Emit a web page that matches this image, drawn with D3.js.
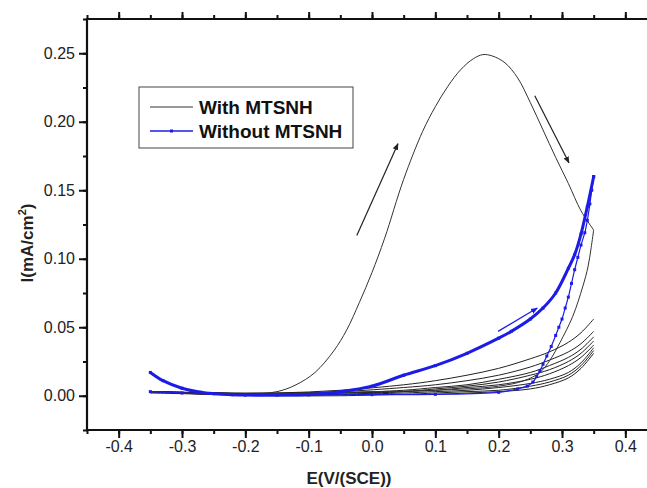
<!DOCTYPE html>
<html>
<head>
<meta charset="utf-8">
<script src="https://cdn.jsdelivr.net/npm/d3@7"></script>
<style>
  body { margin: 0; background: white; }
  text { font-family: "Liberation Sans", Arial, sans-serif; }
</style>
</head>
<body>
<div id="chart"></div>
<script>
var width = 647,
    height = 488

// tick labels
var xTicks = [-0.4, -0.3, -0.2, -0.1, 0.0, 0.1, 0.2, 0.3, 0.4]
var yTicks = [0.00, 0.05, 0.10, 0.15, 0.20, 0.25]

// With MTSNH - first cycle, forward scan
var withFwdE = [-0.35, -0.3, -0.25, -0.2, -0.15, -0.12, -0.09, -0.06, -0.04, -0.02, 0.0, 0.02, 0.05, 0.08, 0.1, 0.12, 0.14, 0.16, 0.175, 0.19, 0.21, 0.23, 0.25, 0.27, 0.29, 0.31, 0.33, 0.35]
var withFwdI = [0.003, 0.002, 0.001, 0.001, 0.003, 0.008, 0.017, 0.033, 0.048, 0.068, 0.090, 0.115, 0.158, 0.193, 0.211, 0.226, 0.238, 0.246, 0.249, 0.248, 0.243, 0.232, 0.214, 0.194, 0.174, 0.155, 0.135, 0.121]
// With MTSNH - first cycle, reverse scan
var withRevE = [0.35, 0.346, 0.341, 0.333, 0.317, 0.297, 0.281, 0.265, 0.24, 0.2, 0.1, 0.0, -0.1, -0.2, -0.3, -0.35]
var withRevI = [0.121, 0.108, 0.094, 0.080, 0.058, 0.039, 0.026, 0.017, 0.011, 0.007, 0.004, 0.003, 0.002, 0.001, 0.002, 0.003]

// With MTSNH - following cycles (bundle)
var bundleE = [-0.35, -0.25, -0.15, -0.05, 0.05, 0.1, 0.15, 0.2, 0.25, 0.28, 0.31, 0.33, 0.35]
var bundle1 = [0.003, 0.002, 0.002, 0.004, 0.008, 0.011, 0.015, 0.020, 0.027, 0.032, 0.039, 0.046, 0.056]
var bundle2 = [0.003, 0.002, 0.002, 0.003, 0.006, 0.008, 0.011, 0.015, 0.021, 0.026, 0.032, 0.038, 0.047]
var bundle3 = [0.003, 0.002, 0.001, 0.002, 0.004, 0.006, 0.008, 0.012, 0.017, 0.022, 0.028, 0.034, 0.043]
var bundle4 = [0.003, 0.002, 0.001, 0.002, 0.003, 0.005, 0.007, 0.010, 0.015, 0.019, 0.025, 0.031, 0.040]
var bundle5 = [0.003, 0.002, 0.001, 0.001, 0.003, 0.004, 0.006, 0.008, 0.012, 0.016, 0.022, 0.028, 0.037]
var bundle6 = [0.003, 0.001, 0.001, 0.001, 0.002, 0.003, 0.004, 0.006, 0.009, 0.012, 0.017, 0.024, 0.035]
var bundle7 = [0.003, 0.001, 0.000, 0.001, 0.001, 0.002, 0.003, 0.004, 0.007, 0.010, 0.015, 0.022, 0.033]
var bundle8 = [0.002, 0.001, 0.000, 0.000, 0.001, 0.001, 0.002, 0.003, 0.005, 0.008, 0.013, 0.020, 0.031]

// Without MTSNH - forward scan
var woFwdE = [-0.35, -0.33, -0.3, -0.27, -0.25, -0.22, -0.2, -0.15, -0.1, -0.05, 0.0, 0.05, 0.1, 0.15, 0.2, 0.22, 0.25, 0.27, 0.29, 0.31, 0.32, 0.33, 0.34, 0.35]
var woFwdI = [0.017, 0.011, 0.0055, 0.0025, 0.0015, 0.0007, 0.0005, 0.0005, 0.001, 0.003, 0.007, 0.015, 0.022, 0.031, 0.042, 0.047, 0.056, 0.064, 0.075, 0.093, 0.103, 0.118, 0.138, 0.160]
// Without MTSNH - reverse scan
var woRevE = [0.35, 0.347, 0.344, 0.34, 0.336, 0.33, 0.325, 0.32, 0.315, 0.31, 0.305, 0.3, 0.295, 0.29, 0.283, 0.276, 0.27, 0.265, 0.26, 0.254, 0.245, 0.23, 0.2, 0.1, 0.0, -0.1, -0.2, -0.3, -0.35]
var woRevI = [0.160, 0.150, 0.140, 0.128, 0.119, 0.110, 0.101, 0.092, 0.082, 0.072, 0.064, 0.056, 0.050, 0.044, 0.036, 0.029, 0.023, 0.018, 0.014, 0.010, 0.007, 0.005, 0.0025, 0.001, 0.0008, 0.0006, 0.0008, 0.002, 0.003]

// arrows [E0, I0, E1, I1]
var arrowUp = [-0.024, 0.117, 0.041, 0.184]
var arrowDown = [0.257, 0.219, 0.311, 0.170]
var arrowBlue = [0.199, 0.047, 0.261, 0.064]

var svg = d3.select("#chart")
    .append("svg")
        .attr("width", width)
        .attr("height", height)
        .style("background-color", "white")

var x = d3.scaleLinear().domain([-0.45, 0.45]).range([87, 657])
var y = d3.scaleLinear().domain([-0.025, 0.275]).range([430, 19])

var blue = "#1c1ce6"

// arrow heads
var defs = svg.append("defs")
function marker(id, col) {
    defs.append("marker")
        .attr("id", id)
        .attr("viewBox", "0 0 10 10")
        .attr("refX", 9).attr("refY", 5)
        .attr("markerWidth", 7).attr("markerHeight", 7)
        .attr("markerUnits", "userSpaceOnUse")
        .attr("orient", "auto")
      .append("path")
        .attr("d", "M0,1 L10,5 L0,9 Z")
        .attr("fill", col)
}
marker("headBlack", "#222")
marker("headBlue", blue)

function pts(es, is) {
    return es.map(function(e, i) { return [e, is[i]] })
}

var line = d3.line()
    .x(function(d) { return x(d[0]) })
    .y(function(d) { return y(d[1]) })
    .curve(d3.curveCatmullRom.alpha(0.5))

// with MTSNH bundle
var bundles = [bundle1, bundle2, bundle3, bundle4, bundle5, bundle6, bundle7, bundle8]
bundles.forEach(function(b) {
    svg.append("path")
        .attr("d", line(pts(bundleE, b)))
        .attr("fill", "none")
        .attr("stroke", "#222")
        .attr("stroke-width", 1)
})

svg.append("path")
    .attr("d", line(pts(withRevE, withRevI)))
    .attr("fill", "none")
    .attr("stroke", "#333")
    .attr("stroke-width", 1)

svg.append("path")
    .attr("d", line(pts(withFwdE, withFwdI)))
    .attr("fill", "none")
    .attr("stroke", "#333")
    .attr("stroke-width", 1)

// without MTSNH
var woSeries = [pts(woRevE, woRevI), pts(woFwdE, woFwdI)]
woSeries.forEach(function(s, k) {
    svg.append("path")
        .attr("d", line(s))
        .attr("fill", "none")
        .attr("stroke", blue)
        .attr("stroke-width", k == 1 ? 3 : 1.2)
    svg.append("g").selectAll("rect")
        .data(s)
        .enter()
        .append("rect")
            .attr("x", function(d) { return x(d[0]) - 1.5 })
            .attr("y", function(d) { return y(d[1]) - 1.5 })
            .attr("width", 3)
            .attr("height", 3)
            .attr("fill", blue)
})

// arrows
function arrow(a, col, head) {
    svg.append("line")
        .attr("x1", x(a[0])).attr("y1", y(a[1]))
        .attr("x2", x(a[2])).attr("y2", y(a[3]))
        .attr("stroke", col)
        .attr("stroke-width", 1.2)
        .attr("marker-end", "url(#" + head + ")")
}
arrow(arrowUp, "#222", "headBlack")
arrow(arrowDown, "#222", "headBlack")
arrow(arrowBlue, blue, "headBlue")

// axes
var xMinor = d3.range(-0.45, 0.46, 0.05)
var yMinor = d3.range(-0.025, 0.276, 0.025)
var fmtX = function(d) { return d3.format(".1f")(d).replace("\u2212", "-") }
var fmtY = function(d) { return d3.format(".2f")(d).replace("\u2212", "-") }

svg.append("g")
    .attr("transform", "translate(0,430)")
    .call(d3.axisBottom(x).tickValues(xMinor).tickSize(4).tickFormat(""))
svg.append("g")
    .attr("transform", "translate(0,430)")
    .call(d3.axisBottom(x).tickValues(xTicks).tickSize(8).tickPadding(3).tickFormat(fmtX))
svg.append("g")
    .attr("transform", "translate(0,19)")
    .call(d3.axisTop(x).tickValues(xMinor).tickSize(4).tickFormat(""))
svg.append("g")
    .attr("transform", "translate(0,19)")
    .call(d3.axisTop(x).tickValues(xTicks).tickSize(7).tickFormat(""))
svg.append("g")
    .attr("transform", "translate(87,0)")
    .call(d3.axisLeft(y).tickValues(yMinor).tickSize(4).tickFormat(""))
svg.append("g")
    .attr("transform", "translate(87,0)")
    .call(d3.axisLeft(y).tickValues(yTicks).tickSize(8).tickPadding(4).tickFormat(fmtY))

svg.selectAll(".domain").remove()
svg.selectAll(".tick line").attr("stroke", "#111").attr("stroke-width", 2)
svg.selectAll(".tick text")
    .attr("fill", "#222")
    .style("font-size", "16px")
    .style("font-family", "'Liberation Sans', Arial, sans-serif")

// frame
svg.append("line").attr("x1", 87).attr("x2", 87).attr("y1", 18).attr("y2", 431)
    .attr("stroke", "#111").attr("stroke-width", 2.2)
svg.append("line").attr("x1", 86).attr("x2", 647).attr("y1", 430).attr("y2", 430)
    .attr("stroke", "#111").attr("stroke-width", 2.2)
svg.append("line").attr("x1", 86).attr("x2", 647).attr("y1", 19).attr("y2", 19)
    .attr("stroke", "#111").attr("stroke-width", 2.2)

// axis titles
svg.append("text")
    .attr("x", 349)
    .attr("y", 484)
    .attr("text-anchor", "middle")
    .style("font-size", "17px")
    .style("font-weight", "bold")
    .attr("fill", "#222")
    .text("E(V/(SCE))")

var yl = svg.append("text")
    .attr("transform", "translate(33,243) rotate(-90)")
    .attr("text-anchor", "middle")
    .style("font-size", "17px")
    .style("font-weight", "bold")
    .attr("fill", "#222")
yl.append("tspan").text("I(mA/cm")
yl.append("tspan").attr("dy", -7).style("font-size", "11px").text("2")
yl.append("tspan").attr("dy", 7).text(")")

// legend
var lg = svg.append("g")
lg.append("rect")
    .attr("x", 139).attr("y", 87)
    .attr("width", 214).attr("height", 61)
    .attr("fill", "white")
    .attr("stroke", "#444")
    .attr("stroke-width", 1)
lg.append("line").attr("x1", 150).attr("x2", 193).attr("y1", 107).attr("y2", 107)
    .attr("stroke", "#333").attr("stroke-width", 1)
lg.append("line").attr("x1", 150).attr("x2", 193).attr("y1", 131).attr("y2", 131)
    .attr("stroke", blue).attr("stroke-width", 1.5)
lg.append("rect").attr("x", 170).attr("y", 129.5).attr("width", 3).attr("height", 3).attr("fill", blue)
lg.append("text").attr("x", 199).attr("y", 114)
    .style("font-size", "19px").style("font-weight", "bold").attr("fill", "#111")
    .text("With MTSNH")
lg.append("text").attr("x", 199).attr("y", 138)
    .style("font-size", "19px").style("font-weight", "bold").attr("fill", "#111")
    .text("Without MTSNH")
</script>
</body>
</html>
